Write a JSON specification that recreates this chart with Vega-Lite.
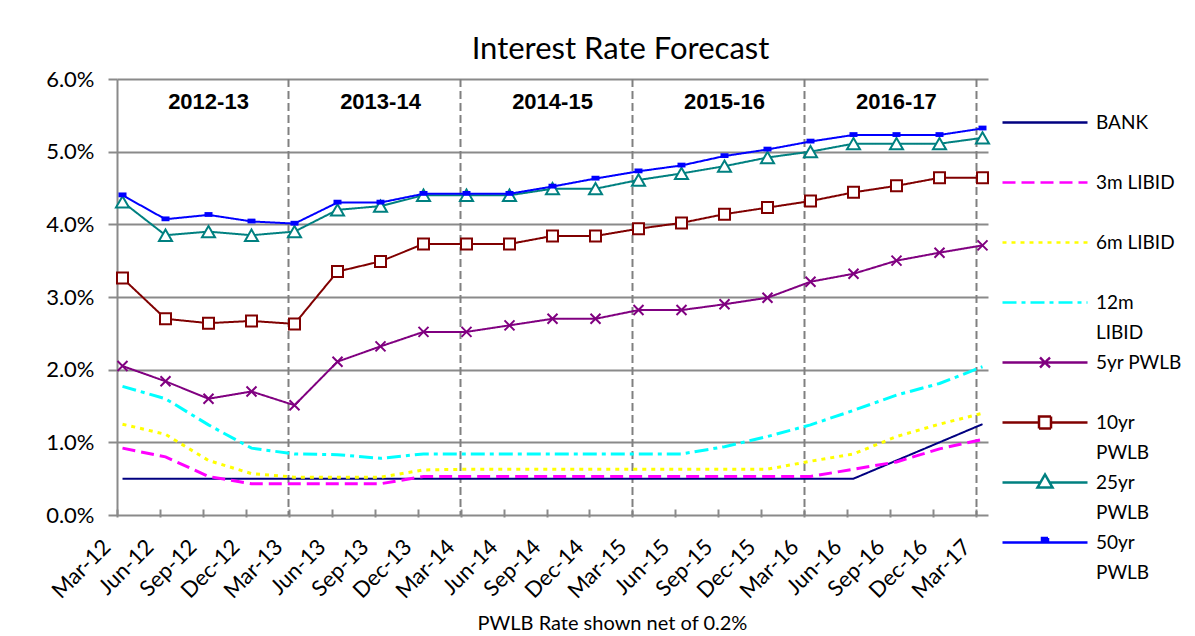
{
  "$schema": "https://vega.github.io/schema/vega-lite/v6.json",
  "width": 871,
  "height": 436,
  "autosize": {"type": "none"},
  "padding": {"left": 117, "top": 79, "right": 207, "bottom": 121},
  "background": "white",
  "config": {
    "view": {"stroke": null},
    "font": "Lato",
    "style": {"guide-label": {"lineHeight": 30}}
  },
  "title": {
    "text": "Interest Rate Forecast",
    "font": "Lato",
    "fontSize": 31,
    "fontWeight": "normal",
    "color": "black",
    "anchor": "middle",
    "frame": "group",
    "dx": 68,
    "offset": 2
  },
  "datasets": {
    "rates": [
      {"period": "Mar-12", "series": "BANK", "rate": 0.5},
      {"period": "Jun-12", "series": "BANK", "rate": 0.5},
      {"period": "Sep-12", "series": "BANK", "rate": 0.5},
      {"period": "Dec-12", "series": "BANK", "rate": 0.5},
      {"period": "Mar-13", "series": "BANK", "rate": 0.5},
      {"period": "Jun-13", "series": "BANK", "rate": 0.5},
      {"period": "Sep-13", "series": "BANK", "rate": 0.5},
      {"period": "Dec-13", "series": "BANK", "rate": 0.5},
      {"period": "Mar-14", "series": "BANK", "rate": 0.5},
      {"period": "Jun-14", "series": "BANK", "rate": 0.5},
      {"period": "Sep-14", "series": "BANK", "rate": 0.5},
      {"period": "Dec-14", "series": "BANK", "rate": 0.5},
      {"period": "Mar-15", "series": "BANK", "rate": 0.5},
      {"period": "Jun-15", "series": "BANK", "rate": 0.5},
      {"period": "Sep-15", "series": "BANK", "rate": 0.5},
      {"period": "Dec-15", "series": "BANK", "rate": 0.5},
      {"period": "Mar-16", "series": "BANK", "rate": 0.5},
      {"period": "Jun-16", "series": "BANK", "rate": 0.5},
      {"period": "Sep-16", "series": "BANK", "rate": 0.75},
      {"period": "Dec-16", "series": "BANK", "rate": 1.0},
      {"period": "Mar-17", "series": "BANK", "rate": 1.25},

      {"period": "Mar-12", "series": "3m LIBID", "rate": 0.92},
      {"period": "Jun-12", "series": "3m LIBID", "rate": 0.8},
      {"period": "Sep-12", "series": "3m LIBID", "rate": 0.53},
      {"period": "Dec-12", "series": "3m LIBID", "rate": 0.43},
      {"period": "Mar-13", "series": "3m LIBID", "rate": 0.43},
      {"period": "Jun-13", "series": "3m LIBID", "rate": 0.43},
      {"period": "Sep-13", "series": "3m LIBID", "rate": 0.43},
      {"period": "Dec-13", "series": "3m LIBID", "rate": 0.53},
      {"period": "Mar-14", "series": "3m LIBID", "rate": 0.53},
      {"period": "Jun-14", "series": "3m LIBID", "rate": 0.53},
      {"period": "Sep-14", "series": "3m LIBID", "rate": 0.53},
      {"period": "Dec-14", "series": "3m LIBID", "rate": 0.53},
      {"period": "Mar-15", "series": "3m LIBID", "rate": 0.53},
      {"period": "Jun-15", "series": "3m LIBID", "rate": 0.53},
      {"period": "Sep-15", "series": "3m LIBID", "rate": 0.53},
      {"period": "Dec-15", "series": "3m LIBID", "rate": 0.53},
      {"period": "Mar-16", "series": "3m LIBID", "rate": 0.53},
      {"period": "Jun-16", "series": "3m LIBID", "rate": 0.63},
      {"period": "Sep-16", "series": "3m LIBID", "rate": 0.73},
      {"period": "Dec-16", "series": "3m LIBID", "rate": 0.91},
      {"period": "Mar-17", "series": "3m LIBID", "rate": 1.04},

      {"period": "Mar-12", "series": "6m LIBID", "rate": 1.25},
      {"period": "Jun-12", "series": "6m LIBID", "rate": 1.11},
      {"period": "Sep-12", "series": "6m LIBID", "rate": 0.75},
      {"period": "Dec-12", "series": "6m LIBID", "rate": 0.57},
      {"period": "Mar-13", "series": "6m LIBID", "rate": 0.52},
      {"period": "Jun-13", "series": "6m LIBID", "rate": 0.52},
      {"period": "Sep-13", "series": "6m LIBID", "rate": 0.52},
      {"period": "Dec-13", "series": "6m LIBID", "rate": 0.62},
      {"period": "Mar-14", "series": "6m LIBID", "rate": 0.63},
      {"period": "Jun-14", "series": "6m LIBID", "rate": 0.63},
      {"period": "Sep-14", "series": "6m LIBID", "rate": 0.63},
      {"period": "Dec-14", "series": "6m LIBID", "rate": 0.63},
      {"period": "Mar-15", "series": "6m LIBID", "rate": 0.63},
      {"period": "Jun-15", "series": "6m LIBID", "rate": 0.63},
      {"period": "Sep-15", "series": "6m LIBID", "rate": 0.63},
      {"period": "Dec-15", "series": "6m LIBID", "rate": 0.63},
      {"period": "Mar-16", "series": "6m LIBID", "rate": 0.74},
      {"period": "Jun-16", "series": "6m LIBID", "rate": 0.84},
      {"period": "Sep-16", "series": "6m LIBID", "rate": 1.08},
      {"period": "Dec-16", "series": "6m LIBID", "rate": 1.25},
      {"period": "Mar-17", "series": "6m LIBID", "rate": 1.4},

      {"period": "Mar-12", "series": "12m LIBID", "rate": 1.77},
      {"period": "Jun-12", "series": "12m LIBID", "rate": 1.6},
      {"period": "Sep-12", "series": "12m LIBID", "rate": 1.24},
      {"period": "Dec-12", "series": "12m LIBID", "rate": 0.92},
      {"period": "Mar-13", "series": "12m LIBID", "rate": 0.84},
      {"period": "Jun-13", "series": "12m LIBID", "rate": 0.83},
      {"period": "Sep-13", "series": "12m LIBID", "rate": 0.78},
      {"period": "Dec-13", "series": "12m LIBID", "rate": 0.84},
      {"period": "Mar-14", "series": "12m LIBID", "rate": 0.84},
      {"period": "Jun-14", "series": "12m LIBID", "rate": 0.84},
      {"period": "Sep-14", "series": "12m LIBID", "rate": 0.84},
      {"period": "Dec-14", "series": "12m LIBID", "rate": 0.84},
      {"period": "Mar-15", "series": "12m LIBID", "rate": 0.84},
      {"period": "Jun-15", "series": "12m LIBID", "rate": 0.84},
      {"period": "Sep-15", "series": "12m LIBID", "rate": 0.94},
      {"period": "Dec-15", "series": "12m LIBID", "rate": 1.08},
      {"period": "Mar-16", "series": "12m LIBID", "rate": 1.24},
      {"period": "Jun-16", "series": "12m LIBID", "rate": 1.44},
      {"period": "Sep-16", "series": "12m LIBID", "rate": 1.65},
      {"period": "Dec-16", "series": "12m LIBID", "rate": 1.81},
      {"period": "Mar-17", "series": "12m LIBID", "rate": 2.04},

      {"period": "Mar-12", "series": "5yr PWLB", "rate": 2.05},
      {"period": "Jun-12", "series": "5yr PWLB", "rate": 1.84},
      {"period": "Sep-12", "series": "5yr PWLB", "rate": 1.6},
      {"period": "Dec-12", "series": "5yr PWLB", "rate": 1.7},
      {"period": "Mar-13", "series": "5yr PWLB", "rate": 1.51},
      {"period": "Jun-13", "series": "5yr PWLB", "rate": 2.11},
      {"period": "Sep-13", "series": "5yr PWLB", "rate": 2.32},
      {"period": "Dec-13", "series": "5yr PWLB", "rate": 2.52},
      {"period": "Mar-14", "series": "5yr PWLB", "rate": 2.52},
      {"period": "Jun-14", "series": "5yr PWLB", "rate": 2.61},
      {"period": "Sep-14", "series": "5yr PWLB", "rate": 2.7},
      {"period": "Dec-14", "series": "5yr PWLB", "rate": 2.7},
      {"period": "Mar-15", "series": "5yr PWLB", "rate": 2.82},
      {"period": "Jun-15", "series": "5yr PWLB", "rate": 2.82},
      {"period": "Sep-15", "series": "5yr PWLB", "rate": 2.9},
      {"period": "Dec-15", "series": "5yr PWLB", "rate": 2.99},
      {"period": "Mar-16", "series": "5yr PWLB", "rate": 3.21},
      {"period": "Jun-16", "series": "5yr PWLB", "rate": 3.32},
      {"period": "Sep-16", "series": "5yr PWLB", "rate": 3.5},
      {"period": "Dec-16", "series": "5yr PWLB", "rate": 3.61},
      {"period": "Mar-17", "series": "5yr PWLB", "rate": 3.71},

      {"period": "Mar-12", "series": "10yr PWLB", "rate": 3.26},
      {"period": "Jun-12", "series": "10yr PWLB", "rate": 2.7},
      {"period": "Sep-12", "series": "10yr PWLB", "rate": 2.64},
      {"period": "Dec-12", "series": "10yr PWLB", "rate": 2.67},
      {"period": "Mar-13", "series": "10yr PWLB", "rate": 2.63},
      {"period": "Jun-13", "series": "10yr PWLB", "rate": 3.35},
      {"period": "Sep-13", "series": "10yr PWLB", "rate": 3.49},
      {"period": "Dec-13", "series": "10yr PWLB", "rate": 3.73},
      {"period": "Mar-14", "series": "10yr PWLB", "rate": 3.73},
      {"period": "Jun-14", "series": "10yr PWLB", "rate": 3.73},
      {"period": "Sep-14", "series": "10yr PWLB", "rate": 3.84},
      {"period": "Dec-14", "series": "10yr PWLB", "rate": 3.84},
      {"period": "Mar-15", "series": "10yr PWLB", "rate": 3.94},
      {"period": "Jun-15", "series": "10yr PWLB", "rate": 4.02},
      {"period": "Sep-15", "series": "10yr PWLB", "rate": 4.14},
      {"period": "Dec-15", "series": "10yr PWLB", "rate": 4.23},
      {"period": "Mar-16", "series": "10yr PWLB", "rate": 4.32},
      {"period": "Jun-16", "series": "10yr PWLB", "rate": 4.44},
      {"period": "Sep-16", "series": "10yr PWLB", "rate": 4.53},
      {"period": "Dec-16", "series": "10yr PWLB", "rate": 4.64},
      {"period": "Mar-17", "series": "10yr PWLB", "rate": 4.64},

      {"period": "Mar-12", "series": "25yr PWLB", "rate": 4.31},
      {"period": "Jun-12", "series": "25yr PWLB", "rate": 3.85},
      {"period": "Sep-12", "series": "25yr PWLB", "rate": 3.9},
      {"period": "Dec-12", "series": "25yr PWLB", "rate": 3.85},
      {"period": "Mar-13", "series": "25yr PWLB", "rate": 3.9},
      {"period": "Jun-13", "series": "25yr PWLB", "rate": 4.2},
      {"period": "Sep-13", "series": "25yr PWLB", "rate": 4.25},
      {"period": "Dec-13", "series": "25yr PWLB", "rate": 4.4},
      {"period": "Mar-14", "series": "25yr PWLB", "rate": 4.4},
      {"period": "Jun-14", "series": "25yr PWLB", "rate": 4.4},
      {"period": "Sep-14", "series": "25yr PWLB", "rate": 4.49},
      {"period": "Dec-14", "series": "25yr PWLB", "rate": 4.49},
      {"period": "Mar-15", "series": "25yr PWLB", "rate": 4.61},
      {"period": "Jun-15", "series": "25yr PWLB", "rate": 4.7},
      {"period": "Sep-15", "series": "25yr PWLB", "rate": 4.8},
      {"period": "Dec-15", "series": "25yr PWLB", "rate": 4.92},
      {"period": "Mar-16", "series": "25yr PWLB", "rate": 5.0},
      {"period": "Jun-16", "series": "25yr PWLB", "rate": 5.11},
      {"period": "Sep-16", "series": "25yr PWLB", "rate": 5.11},
      {"period": "Dec-16", "series": "25yr PWLB", "rate": 5.11},
      {"period": "Mar-17", "series": "25yr PWLB", "rate": 5.19},

      {"period": "Mar-12", "series": "50yr PWLB", "rate": 4.4},
      {"period": "Jun-12", "series": "50yr PWLB", "rate": 4.07},
      {"period": "Sep-12", "series": "50yr PWLB", "rate": 4.13},
      {"period": "Dec-12", "series": "50yr PWLB", "rate": 4.04},
      {"period": "Mar-13", "series": "50yr PWLB", "rate": 4.01},
      {"period": "Jun-13", "series": "50yr PWLB", "rate": 4.3},
      {"period": "Sep-13", "series": "50yr PWLB", "rate": 4.3},
      {"period": "Dec-13", "series": "50yr PWLB", "rate": 4.42},
      {"period": "Mar-14", "series": "50yr PWLB", "rate": 4.42},
      {"period": "Jun-14", "series": "50yr PWLB", "rate": 4.42},
      {"period": "Sep-14", "series": "50yr PWLB", "rate": 4.52},
      {"period": "Dec-14", "series": "50yr PWLB", "rate": 4.63},
      {"period": "Mar-15", "series": "50yr PWLB", "rate": 4.73},
      {"period": "Jun-15", "series": "50yr PWLB", "rate": 4.81},
      {"period": "Sep-15", "series": "50yr PWLB", "rate": 4.94},
      {"period": "Dec-15", "series": "50yr PWLB", "rate": 5.03},
      {"period": "Mar-16", "series": "50yr PWLB", "rate": 5.14},
      {"period": "Jun-16", "series": "50yr PWLB", "rate": 5.23},
      {"period": "Sep-16", "series": "50yr PWLB", "rate": 5.23},
      {"period": "Dec-16", "series": "50yr PWLB", "rate": 5.23},
      {"period": "Mar-17", "series": "50yr PWLB", "rate": 5.32}
    ],
    "years": [
      {"year": "2012-13", "mid": "Sep-12", "end": "Mar-13"},
      {"year": "2013-14", "mid": "Sep-13", "end": "Mar-14"},
      {"year": "2014-15", "mid": "Sep-14", "end": "Mar-15"},
      {"year": "2015-16", "mid": "Sep-15", "end": "Mar-16"},
      {"year": "2016-17", "mid": "Sep-16", "end": "Mar-17"}
    ]
  },
  "layer": [
    {
      "data": {"name": "rates"},
      "transform": [{"filter": "datum.rate < 0"}],
      "mark": {"type": "point", "filled": false, "strokeWidth": 2.5, "opacity": 1},
      "encoding": {
        "x": {"field": "period", "type": "ordinal",
          "scale": {"type": "point", "padding": 0.128, "domain": ["Mar-12","Jun-12","Sep-12","Dec-12","Mar-13","Jun-13","Sep-13","Dec-13","Mar-14","Jun-14","Sep-14","Dec-14","Mar-15","Jun-15","Sep-15","Dec-15","Mar-16","Jun-16","Sep-16","Dec-16","Mar-17"]},
          "axis": {
            "title": "PWLB Rate shown net of 0.2%",
            "titleFont": "Lato", "titleFontSize": 20, "titleFontWeight": "normal", "titleColor": "black",
            "titleX": 501, "titleY": 120, "titleBaseline": "alphabetic", "titleAlign": "center",
            "labelAngle": -45, "labelFont": "Lato", "labelFontSize": 22, "labelColor": "black",
            "labelPadding": 19, "labelOffset": -17, "labelOverlap": false,
            "tickColor": "#8a8a8a", "tickWidth": 2, "tickSize": 8,
            "domain": false, "grid": false, "translate": -5.5
          }},
        "y": {"field": "rate", "type": "quantitative",
          "scale": {"domain": [0, 6], "nice": false, "zero": true},
          "axis": {
            "title": null, "values": [0, 1, 2, 3, 4, 5, 6],
            "labelExpr": "format(datum.value, '.1f') + '%'",
            "labelFont": "Lato", "labelFontSize": 22, "labelColor": "black", "labelPadding": 14,
            "tickSize": 9, "tickColor": "#8a8a8a", "tickWidth": 2,
            "domainColor": "#8a8a8a", "domainWidth": 2,
            "grid": true, "gridColor": "#8a8a8a", "gridWidth": 2
          }},
        "color": {"field": "series", "type": "nominal",
          "scale": {"domain": ["BANK","3m LIBID","6m LIBID","12m LIBID","5yr PWLB","10yr PWLB","25yr PWLB","50yr PWLB"],
                    "range": ["#000080","#FF00FF","#FFFF00","#00FFFF","#800080","#800000","#008080","#0000FF"]},
          "legend": {"title": null, "orient": "none", "legendX": 881, "legendY": 34, "symbolSize": 100, "symbolStrokeWidth": 2.5, "labelFont": "Lato", "labelFontSize": 19, "labelColor": "black", "labelOffset": 79, "rowPadding": 6, "gridAlign": "all", "padding": 0, "labelExpr": "length(datum.label) > 8 ? split(datum.label, ' ') : datum.label"}},
        "strokeDash": {"field": "series", "type": "nominal",
          "scale": {"domain": ["BANK","3m LIBID","6m LIBID","12m LIBID","5yr PWLB","10yr PWLB","25yr PWLB","50yr PWLB"],
                    "range": [[1,0],[13,6],[4,5],[14,5,4,5],[1,0],[1,0],[1,0],[1,0]]},
          "legend": {"title": null, "orient": "none", "legendX": 881, "legendY": 34, "symbolSize": 100, "symbolStrokeWidth": 2.5, "labelFont": "Lato", "labelFontSize": 19, "labelColor": "black", "labelOffset": 79, "rowPadding": 6, "gridAlign": "all", "padding": 0, "labelExpr": "length(datum.label) > 8 ? split(datum.label, ' ') : datum.label"}},
        "shape": {"field": "series", "type": "nominal",
          "scale": {"domain": ["BANK","3m LIBID","6m LIBID","12m LIBID","5yr PWLB","10yr PWLB","25yr PWLB","50yr PWLB"],
                    "range": ["M-1,0L16,0","M-1,0L16,0","M-1,0L16,0","M-1,0L16,0",
                              "M-1,0L16,0M6.5,-1L8.5,1M6.5,1L8.5,-1",
                              "M-1,0L6.3,0M8.7,0L16,0M6.3,-1.2L8.7,-1.2L8.7,1.2L6.3,1.2Z",
                              "M-1,0L6.6,0M8.4,0L16,0M7.5,-1.6L9,1L6,1Z",
                              "M-1,0L16,0M6.9,-0.9L8.1,-0.9L8.1,-0.4L6.9,-0.4Z"]},
          "legend": {"title": null, "orient": "none", "legendX": 881, "legendY": 34, "symbolSize": 100, "symbolStrokeWidth": 2.5, "labelFont": "Lato", "labelFontSize": 19, "labelColor": "black", "labelOffset": 79, "rowPadding": 6, "gridAlign": "all", "padding": 0, "labelExpr": "length(datum.label) > 8 ? split(datum.label, ' ') : datum.label"}}
      }
    },
    {
      "data": {"name": "years"},
      "mark": {"type": "rule", "color": "#808080", "strokeWidth": 2, "strokeDash": [8, 4], "xOffset": -6},
      "encoding": {
        "x": {"field": "end", "type": "ordinal"}
      }
    },
    {
      "data": {"name": "rates"},
      "transform": [{"filter": "indexof(datum.series, 'LIBID') < 0"}],
      "mark": {"type": "line", "strokeWidth": 2},
      "encoding": {
        "x": {"field": "period", "type": "ordinal"},
        "y": {"field": "rate", "type": "quantitative"},
        "color": {"field": "series", "type": "nominal"},
        "strokeDash": {"field": "series", "type": "nominal"}
      }
    },
    {
      "data": {"name": "rates"},
      "transform": [{"filter": "indexof(datum.series, 'LIBID') >= 0"}],
      "mark": {"type": "line", "strokeWidth": 3},
      "encoding": {
        "x": {"field": "period", "type": "ordinal"},
        "y": {"field": "rate", "type": "quantitative"},
        "color": {"field": "series", "type": "nominal"},
        "strokeDash": {"field": "series", "type": "nominal"}
      }
    },
    {
      "data": {"name": "rates"},
      "transform": [{"filter": "datum.series == '5yr PWLB'"}],
      "mark": {"type": "point", "shape": "M-1,-1L1,1M-1,1L1,-1", "filled": false, "size": 100, "strokeWidth": 2, "color": "#800080", "opacity": 1},
      "encoding": {"x": {"field": "period", "type": "ordinal"}, "y": {"field": "rate", "type": "quantitative"}}
    },
    {
      "data": {"name": "rates"},
      "transform": [{"filter": "datum.series == '10yr PWLB'"}],
      "mark": {"type": "point", "shape": "square", "filled": true, "fill": "white", "stroke": "#800000", "size": 121, "strokeWidth": 2, "opacity": 1},
      "encoding": {"x": {"field": "period", "type": "ordinal"}, "y": {"field": "rate", "type": "quantitative"}}
    },
    {
      "data": {"name": "rates"},
      "transform": [{"filter": "datum.series == '25yr PWLB'"}],
      "mark": {"type": "point", "shape": "triangle-up", "filled": true, "fill": "white", "stroke": "#008080", "size": 170, "strokeWidth": 2, "opacity": 1},
      "encoding": {"x": {"field": "period", "type": "ordinal"}, "y": {"field": "rate", "type": "quantitative"}}
    },
    {
      "data": {"name": "rates"},
      "transform": [{"filter": "datum.series == '50yr PWLB'"}],
      "mark": {"type": "point", "shape": "M-1,-0.7L1,-0.7L1,0.5L-1,0.5Z", "filled": true, "color": "#0000FF", "size": 64, "opacity": 1},
      "encoding": {"x": {"field": "period", "type": "ordinal"}, "y": {"field": "rate", "type": "quantitative"}}
    },
    {
      "data": {"name": "years"},
      "mark": {"type": "text", "font": "Liberation Sans", "fontWeight": "bold", "fontSize": 22, "color": "black", "baseline": "middle", "align": "center"},
      "encoding": {
        "x": {"field": "mid", "type": "ordinal"},
        "y": {"datum": 5.68, "type": "quantitative"},
        "text": {"field": "year"}
      }
    }
  ]
}
